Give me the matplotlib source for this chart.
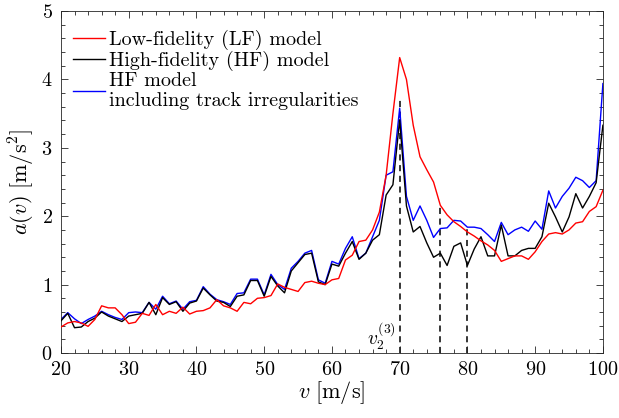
import numpy as np
import matplotlib
matplotlib.use("Agg")
import matplotlib.pyplot as plt
from matplotlib.ticker import MultipleLocator

plt.rcParams['font.family'] = 'serif'
plt.rcParams['font.serif'] = ['cmr10']
plt.rcParams['mathtext.fontset'] = 'cm'
plt.rcParams['axes.formatter.use_mathtext'] = True

speed = np.arange(20, 101)

lf_model = [0.38, 0.44, 0.46, 0.44, 0.39, 0.49, 0.69, 0.66, 0.66, 0.56,
            0.43, 0.45, 0.58, 0.55, 0.71, 0.56, 0.61, 0.58, 0.67, 0.57,
            0.61, 0.62, 0.66, 0.78, 0.69, 0.66, 0.61, 0.74, 0.72, 0.80,
            0.81, 0.84, 1.01, 0.96, 0.93, 0.90, 1.03, 1.05, 1.02, 1.00,
            1.07, 1.09, 1.36, 1.43, 1.63, 1.65, 1.80, 2.06, 2.60, 3.50,
            4.32, 4.00, 3.33, 2.87, 2.68, 2.50, 2.16, 2.02, 1.92, 1.85,
            1.77, 1.71, 1.64, 1.58, 1.50, 1.34, 1.38, 1.42, 1.42, 1.37,
            1.48, 1.63, 1.74, 1.76, 1.74, 1.80, 1.90, 1.92, 2.07, 2.14,
            2.38]

hf_model = [0.47, 0.58, 0.37, 0.38, 0.46, 0.51, 0.60, 0.54, 0.50, 0.46,
            0.54, 0.56, 0.58, 0.74, 0.56, 0.81, 0.71, 0.75, 0.61, 0.73,
            0.76, 0.95, 0.85, 0.76, 0.74, 0.68, 0.83, 0.85, 1.06, 1.06,
            0.83, 1.12, 0.98, 0.88, 1.20, 1.32, 1.44, 1.46, 1.04, 1.00,
            1.30, 1.27, 1.46, 1.63, 1.37, 1.46, 1.65, 1.73, 2.31, 2.46,
            3.41, 2.15, 1.77, 1.85, 1.61, 1.40, 1.46, 1.28, 1.56, 1.61,
            1.28, 1.52, 1.70, 1.42, 1.42, 1.87, 1.42, 1.42, 1.50, 1.53,
            1.53, 1.70, 2.19, 1.99, 1.77, 1.99, 2.33, 2.12, 2.29, 2.49,
            3.33]

hf_irreg = [0.49, 0.59, 0.50, 0.43, 0.49, 0.54, 0.61, 0.56, 0.52, 0.49,
            0.59, 0.60, 0.59, 0.74, 0.64, 0.83, 0.72, 0.76, 0.64, 0.75,
            0.77, 0.97, 0.86, 0.78, 0.75, 0.71, 0.87, 0.88, 1.08, 1.08,
            0.85, 1.15, 1.00, 0.93, 1.24, 1.34, 1.46, 1.50, 1.07, 1.02,
            1.34, 1.30, 1.53, 1.70, 1.38, 1.46, 1.70, 1.94, 2.60, 2.65,
            3.58, 2.29, 1.94, 2.15, 1.94, 1.69, 1.82, 1.83, 1.94, 1.93,
            1.84, 1.84, 1.82, 1.73, 1.63, 1.91, 1.73, 1.80, 1.84, 1.78,
            1.93, 1.81, 2.37, 2.12, 2.29, 2.41, 2.57, 2.52, 2.42, 2.52,
            3.94]

marker_speeds = [70, 76, 80]
marker_heights = [3.7, 2.16, 1.84]

fig = plt.figure(figsize=(6.19, 4.18), dpi=100)
ax = fig.add_axes([0.0985, 0.1555, 0.8755, 0.818])

for vs, h in zip(marker_speeds, marker_heights):
    ax.plot([vs, vs], [0, h], color='k', ls=(0, (4, 3)), lw=1.1, zorder=1)

l_irr, = ax.plot(speed, hf_irreg, color='#0000ff', lw=1.0, zorder=2)
l_hf, = ax.plot(speed, hf_model, color='k', lw=1.0, zorder=3)
l_lf, = ax.plot(speed, lf_model, color='#ff0000', lw=1.0, zorder=4)

ax.text(69.4, 0.25, r'$v_2^{(3)}$', ha='right', va='center', fontsize=14)

ax.legend([l_lf, l_hf, l_irr],
          ['Low-fidelity (LF) model', 'High-fidelity (HF) model',
           'HF model\nincluding track irregularities'],
          loc='upper left', bbox_to_anchor=(-0.016, 1.008),
          frameon=False, fontsize=14.5,
          handlelength=1.55, handletextpad=0.2, labelspacing=0.05,
          borderaxespad=0.8, borderpad=0.25)

ax.set_xlim(20, 100)
ax.set_ylim(0, 5)
ax.xaxis.set_major_locator(MultipleLocator(10))
ax.xaxis.set_minor_locator(MultipleLocator(2))
ax.yaxis.set_major_locator(MultipleLocator(1))
ax.yaxis.set_minor_locator(MultipleLocator(0.2))
ax.tick_params(which='both', direction='in', top=True, right=True,
               labelsize=14.5, color='#262626', width=0.6)
ax.tick_params(which='major', length=5)
ax.tick_params(which='minor', length=3)
ax.tick_params(axis='x', pad=6)
ax.tick_params(axis='y', pad=6)
for s in ax.spines.values():
    s.set_color('#262626')
    s.set_linewidth(0.6)

ax.set_xlabel(r'$v\ [\mathrm{m/s}]$', fontsize=16, labelpad=0)
ax.set_ylabel(r'$a(v)\ [\mathrm{m/s}^2]$', fontsize=16, labelpad=3)

fig.savefig('out.png', dpi=100)
